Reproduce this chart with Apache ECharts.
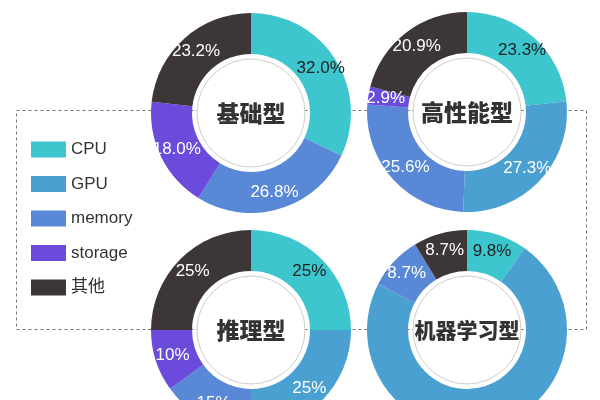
<!DOCTYPE html>
<html>
<head>
<meta charset="utf-8">
<script src="https://cdn.jsdelivr.net/npm/echarts@6/dist/echarts.min.js"></script>
<style>html,body{margin:0;padding:0;background:#fff}#c{width:600px;height:400px}</style>
</head>
<body>
<div id="c"></div>
<script>
// Data
var categories = ['CPU', 'GPU', 'memory', 'storage', '其他'];
var chartNames = ['基础型', '高性能型', '推理型', '机器学习型'];
var basicValues = [32.0, 0, 26.8, 18.0, 23.2];
var highPerfValues = [23.3, 27.3, 25.6, 2.9, 20.9];
var inferenceValues = [25, 25, 15, 10, 25];
var mlValues = [9.8, 72.8, 8.7, 0, 8.7];
var labelDecimals = [1, 1, 0, 1];

var colors = ['#3ec6ce', '#4ba0d2', '#5888d6', '#6a4bdb', '#3c3636'];
var allValues = [basicValues, highPerfValues, inferenceValues, mlValues];
var centers = [[251, 113], [467, 112], [251, 330], [467, 330]];
var titleSizes = [23, 23, 23, 21];

var series = [];
allValues.forEach(function (vals, i) {
  series.push({
    type: 'pie',
    name: chartNames[i],
    center: centers[i],
    radius: [59, 100],
    startAngle: 90,
    clockwise: true,
    silent: true,
    minShowLabelAngle: 1,
    z: 3,
    itemStyle: { borderWidth: 0 },
    label: {
      show: true,
      position: 'inside',
      fontSize: 17,
      fontFamily: 'Liberation Sans, Arial, sans-serif',
      color: '#ffffff',
      formatter: function (p) { return p.value.toFixed(labelDecimals[i]) + '%'; }
    },
    labelLine: { show: false },
    data: categories.map(function (c, k) {
      var item = { name: c, value: vals[k] };
      if (k === 0) item.label = { color: '#222222' };
      return item;
    })
  });
  series.push({
    type: 'pie',
    center: centers[i],
    radius: [0, 54],
    silent: true,
    z: 4,
    itemStyle: { color: '#ffffff', borderColor: '#cccccc', borderWidth: 1 },
    label: {
      show: true,
      position: 'center',
      fontSize: titleSizes[i],
      fontWeight: 900,
      fontFamily: 'Noto Sans CJK SC, sans-serif',
      color: '#333333',
      formatter: chartNames[i]
    },
    labelLine: { show: false },
    data: [{ name: chartNames[i], value: 1 }]
  });
});

var chart = echarts.init(document.getElementById('c'), null, { renderer: 'canvas' });
chart.setOption({
  animation: false,
  color: colors,
  legend: {
    orient: 'vertical',
    left: 26,
    top: 136,
    itemWidth: 35,
    itemHeight: 16,
    itemGap: 17.5,
    icon: 'rect',
    selectedMode: false,
    data: categories,
    textStyle: { fontSize: 17, color: '#333333', fontFamily: 'Liberation Sans, Noto Sans CJK SC, sans-serif' }
  },
  graphic: [{
    type: 'rect',
    z: 0,
    silent: true,
    shape: { x: 16.5, y: 110.5, width: 570, height: 219 },
    style: { fill: 'none', stroke: '#777777', lineWidth: 1, lineDash: [3, 3] }
  }],
  series: series
});
</script>
</body>
</html>
